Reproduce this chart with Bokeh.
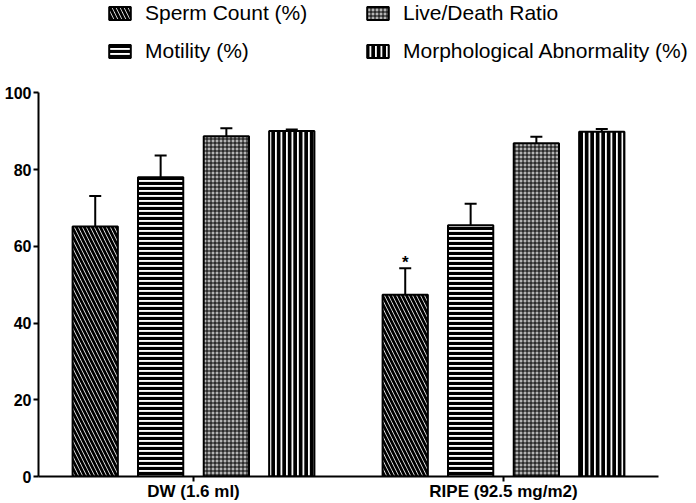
from bokeh.plotting import figure
from bokeh.models import (ColumnDataSource, Range1d, Legend, LegendItem,
                          Whisker, TeeHead, FixedTicker)
from bokeh.transform import dodge
from bokeh.core.properties import value
from bokeh.embed import file_html
from bokeh.resources import INLINE

# ---- data ----
groups = ["DW (1.6 ml)", "RIPE (92.5 mg/m2)"]
series = ["Sperm Count (%)", "Motility (%)", "Live/Death Ratio", "Morphological Abnormality (%)"]
sperm_count = [65.2, 47.4]
sperm_count_err = [7.9, 6.9]
motility = [78.0, 65.5]
motility_err = [5.7, 5.6]
live_death = [88.7, 86.9]
live_death_err = [2.1, 1.7]
morph_abn = [90.1, 89.9]
morph_abn_err = [0.4, 0.7]
sperm_sig = ["", "*"]
y_ticks = [0, 20, 40, 60, 80, 100]

values = [sperm_count, motility, live_death, morph_abn]
errors = [sperm_count_err, motility_err, live_death_err, morph_abn_err]

# category slots on the x axis: group i is centred at i + 0.5
group_pos = [i + 0.5 for i in range(len(groups))]

# ---- style ----
FONT = "Liberation Sans"
offsets = [-0.317, -0.106, 0.106, 0.317]
bar_w = 0.146
hatches = [
    dict(hatch_pattern="\\", hatch_color="black", hatch_weight=2.8, hatch_scale=8),
    dict(hatch_pattern="-", hatch_color="black", hatch_weight=3.2, hatch_scale=5),
    dict(hatch_pattern="+", hatch_color="black", hatch_weight=1.0, hatch_scale=4),
    dict(hatch_pattern="|", hatch_color="black", hatch_weight=3.9, hatch_scale=5.5),
]
fills = ["white", "white", "#b4b4b4", "white"]

W, H = 696, 503
LEFT = 38
Y_END = 124.1
X_END = 2 * (W - LEFT) / 620

p = figure(width=W, height=H, x_range=Range1d(0, X_END), y_range=Range1d(0, Y_END),
           output_backend="svg", toolbar_location=None,
           min_border_left=LEFT, min_border_right=0, min_border_top=0, min_border_bottom=0)
p.outline_line_color = None
p.xgrid.grid_line_color = None
p.ygrid.grid_line_color = None

data = dict(group=group_pos)
for i in range(4):
    data[f"v{i}"] = values[i]
    data[f"u{i}"] = [v + e for v, e in zip(values[i], errors[i])]
data["sig"] = sperm_sig
src = ColumnDataSource(data)

renderers = []
for i in range(4):
    r = p.vbar(x=dodge("group", offsets[i]), top=f"v{i}", width=bar_w,
               source=src, fill_color=fills[i], line_color="black", line_width=2, **hatches[i])
    renderers.append(r)
    wk = Whisker(source=src, base=dodge("group", offsets[i]),
                 upper=f"u{i}", lower=f"v{i}", dimension="height", line_width=2,
                 line_color="black", upper_head=TeeHead(size=12, line_width=2, line_color="black"),
                 lower_head=None, level="underlay")
    p.add_layout(wk)

p.text(x=dodge("group", offsets[0]), y="u0", text="sig", source=src,
       text_align="center", text_baseline="alphabetic", y_offset=-6,
       text_font=value(FONT), text_font_style="bold", text_font_size="17px", text_color="black")

for ax in (p.xaxis[0], p.yaxis[0]):
    ax.axis_line_width = 2
    ax.axis_line_color = "black"
    ax.major_tick_line_width = 2
    ax.major_tick_in = 0
    ax.major_tick_out = 5
    ax.minor_tick_line_color = None
    ax.major_label_text_font = FONT
    ax.major_label_text_font_style = "bold"
    ax.major_label_text_color = "black"
    ax.major_label_standoff = 2

p.xaxis.ticker = FixedTicker(ticks=group_pos)
p.xaxis.major_label_overrides = {pos: g for pos, g in zip(group_pos, groups)}
p.xaxis.bounds = (0, 2)
p.xaxis.major_label_text_font_size = "17px"
p.xaxis.major_label_standoff = 0
p.xaxis.major_label_text_line_height = 1.0
p.yaxis.major_label_text_font_size = "16px"
p.yaxis.ticker = FixedTicker(ticks=y_ticks)
p.yaxis.bounds = (0, 100)

legend = Legend(items=[LegendItem(label=s, renderers=[r]) for s, r in zip(series, renderers)],
                location=(68, 413), orientation="vertical", ncols=2,
                glyph_width=27, glyph_height=16, label_standoff=12, label_width=205,
                label_height=20, spacing=14, padding=0, margin=0,
                border_line_alpha=0, background_fill_alpha=0,
                label_text_font=FONT, label_text_font_size="21px", label_text_color="black")
p.add_layout(legend)

open("out.html", "w").write(file_html(p, INLINE))
